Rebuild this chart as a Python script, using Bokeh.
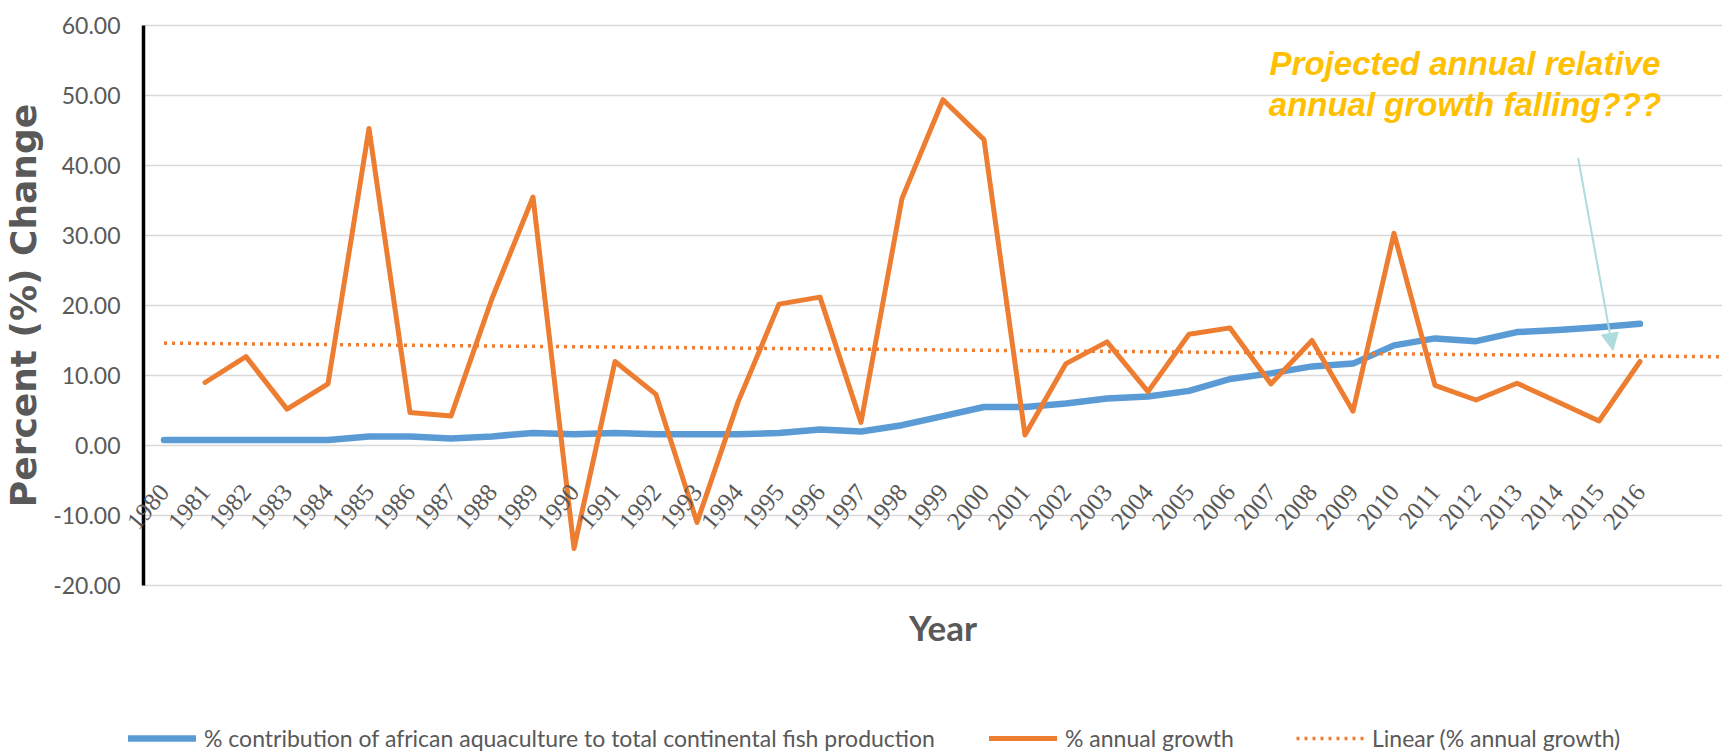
import math
import numpy as np
from bokeh.plotting import figure
from bokeh.models import (Range1d, FixedTicker, NumeralTickFormatter, ColumnDataSource,
                          LabelSet, Label, Legend, LegendItem, Arrow, NormalHead)
from bokeh.embed import file_html
from bokeh.resources import INLINE

# Share of African aquaculture in total continental fish production (%)
years = list(range(1980, 2017))
contribution = [0.8, 0.8, 0.8, 0.8, 0.8, 1.3, 1.3, 1.0, 1.3, 1.8,
                1.6, 1.8, 1.6, 1.6, 1.6, 1.8, 2.3, 2.0, 2.9, 4.2,
                5.5, 5.5, 6.0, 6.7, 7.0, 7.8, 9.5, 10.3, 11.3, 11.7,
                14.3, 15.3, 14.9, 16.2, 16.5, 16.9, 17.4]

# Annual growth (%), first value available for 1981
growth_years = list(range(1981, 2017))
growth = [9.0, 12.7, 5.2, 8.8, 45.3, 4.7, 4.2, 21.0, 35.5, -14.7,
          12.0, 7.3, -11.0, 6.2, 20.2, 21.2, 3.3, 35.3, 49.4, 43.7,
          1.5, 11.7, 14.8, 7.7, 15.9, 16.8, 8.8, 15.0, 4.9, 30.3,
          8.6, 6.5, 8.9, 6.2, 3.5, 12.0]

year_labels = [str(y) for y in years]
y_ticks = [-20, -10, 0, 10, 20, 30, 40, 50, 60]

GREY = "#595959"
BLUE = "#5B9BD5"
ORANGE = "#ED7D31"
GOLD = "#FFC000"
ARROW = "#AEDCDC"
BODY = "Lato"

W, H = 1722, 752
PX_X = 41.0          # pixels per year
PX_Y = 7.0           # pixels per percentage point
axis_x = 1979.5      # category axis starts half a category before 1980
left_px, top_px, bottom_px = 143, 25, 167

x_range = Range1d(axis_x - left_px / PX_X, axis_x + (W - left_px) / PX_X)
y_range = Range1d(y_ticks[0] - bottom_px / PX_Y, y_ticks[-1] + top_px / PX_Y)

p = figure(width=W, height=H, output_backend="svg", toolbar_location=None,
           x_range=x_range, y_range=y_range,
           min_border_left=0, min_border_right=0, min_border_top=0, min_border_bottom=0)
p.outline_line_color = None
p.background_fill_color = "white"
p.border_fill_color = "white"
p.xaxis.visible = False
p.xgrid.visible = False
p.ygrid.visible = False

# value axis, anchored at the start of the category axis
yax = p.yaxis[0]
yax.fixed_location = axis_x
yax.bounds = (y_ticks[0], y_ticks[-1])
yax.ticker = FixedTicker(ticks=y_ticks)
yax.formatter = NumeralTickFormatter(format="0.00")
yax.axis_line_color = "black"
yax.axis_line_width = 3.5
yax.major_tick_in = 0
yax.major_tick_out = 0
yax.minor_tick_line_color = None
yax.major_label_standoff = 23
yax.major_label_text_font = BODY
yax.major_label_text_font_size = "23px"
yax.major_label_text_color = GREY
yax.axis_label = "Percent (%) Change"
yax.axis_label_text_font = "DejaVu Sans"
yax.axis_label_text_font_style = "bold"
yax.axis_label_text_font_size = "36px"
yax.axis_label_text_color = GREY
yax.axis_label_standoff = 6

# horizontal gridlines at each value tick
p.segment(x0=axis_x, y0=y_ticks, x1=x_range.end, y1=y_ticks,
          line_color="#D9D9D9", line_width=1.5)

# series
r_contrib = p.line(years, contribution, line_color=BLUE, line_width=6.5,
                   line_join="round", line_cap="round")
r_growth = p.line(growth_years, growth, line_color=ORANGE, line_width=5,
                  line_join="round", line_cap="round")

# linear trend of annual growth, extended to the end of the axis
slope, intercept = np.polyfit(growth_years, growth, 1)
trend_x = [years[0], x_range.end]
trend_y = [slope * x + intercept for x in trend_x]
r_trend = p.line(trend_x, trend_y, line_color=ORANGE, line_width=3.5, line_dash="3 5")

# category labels along the zero line
src = ColumnDataSource(dict(x=years, text=year_labels))
p.add_layout(LabelSet(x="x", y=-6.0, text="text", source=src, angle=math.radians(50),
                      text_align="right", text_baseline="middle",
                      text_font=BODY, text_font_size="25px", text_color=GREY))

p.add_layout(Label(x=1999.0, y=-25.9, text="Year", text_align="center", text_baseline="middle",
                   text_font=BODY, text_font_style="bold", text_font_size="35px",
                   text_color=GREY))

# callout
p.add_layout(Label(x=2011.73, y=52.0, text="Projected annual relative", text_align="center",
                   text_font="Liberation Sans", text_font_style="bold italic",
                   text_font_size="33px", text_color=GOLD))
p.add_layout(Label(x=2011.73, y=46.1, text="annual growth falling???", text_align="center",
                   text_font="Liberation Sans", text_font_style="bold italic",
                   text_font_size="33px", text_color=GOLD))
p.add_layout(Arrow(end=NormalHead(size=17, fill_color=ARROW, line_color=ARROW),
                   x_start=2014.49, y_start=41.1, x_end=2015.34, y_end=13.6,
                   line_color=ARROW, line_width=2))

# legend entries along the bottom
def add_legend(label, renderer, vx):
    leg = Legend(items=[LegendItem(label=label, renderers=[renderer])],
                 location=(vx, 0), orientation="horizontal",
                 label_text_font=BODY, label_text_font_size="23px", label_text_color=GREY,
                 glyph_width=68, glyph_height=20, label_standoff=8,
                 padding=0, margin=0, spacing=0,
                 border_line_color=None, background_fill_alpha=0)
    p.add_layout(leg, "center")

add_legend("% contribution of african aquaculture to total continental fish production", r_contrib, 128)
add_legend("% annual growth", r_growth, 989)
add_legend("Linear (% annual growth)", r_trend, 1296)

open("out.html", "w").write(file_html(p, INLINE))
